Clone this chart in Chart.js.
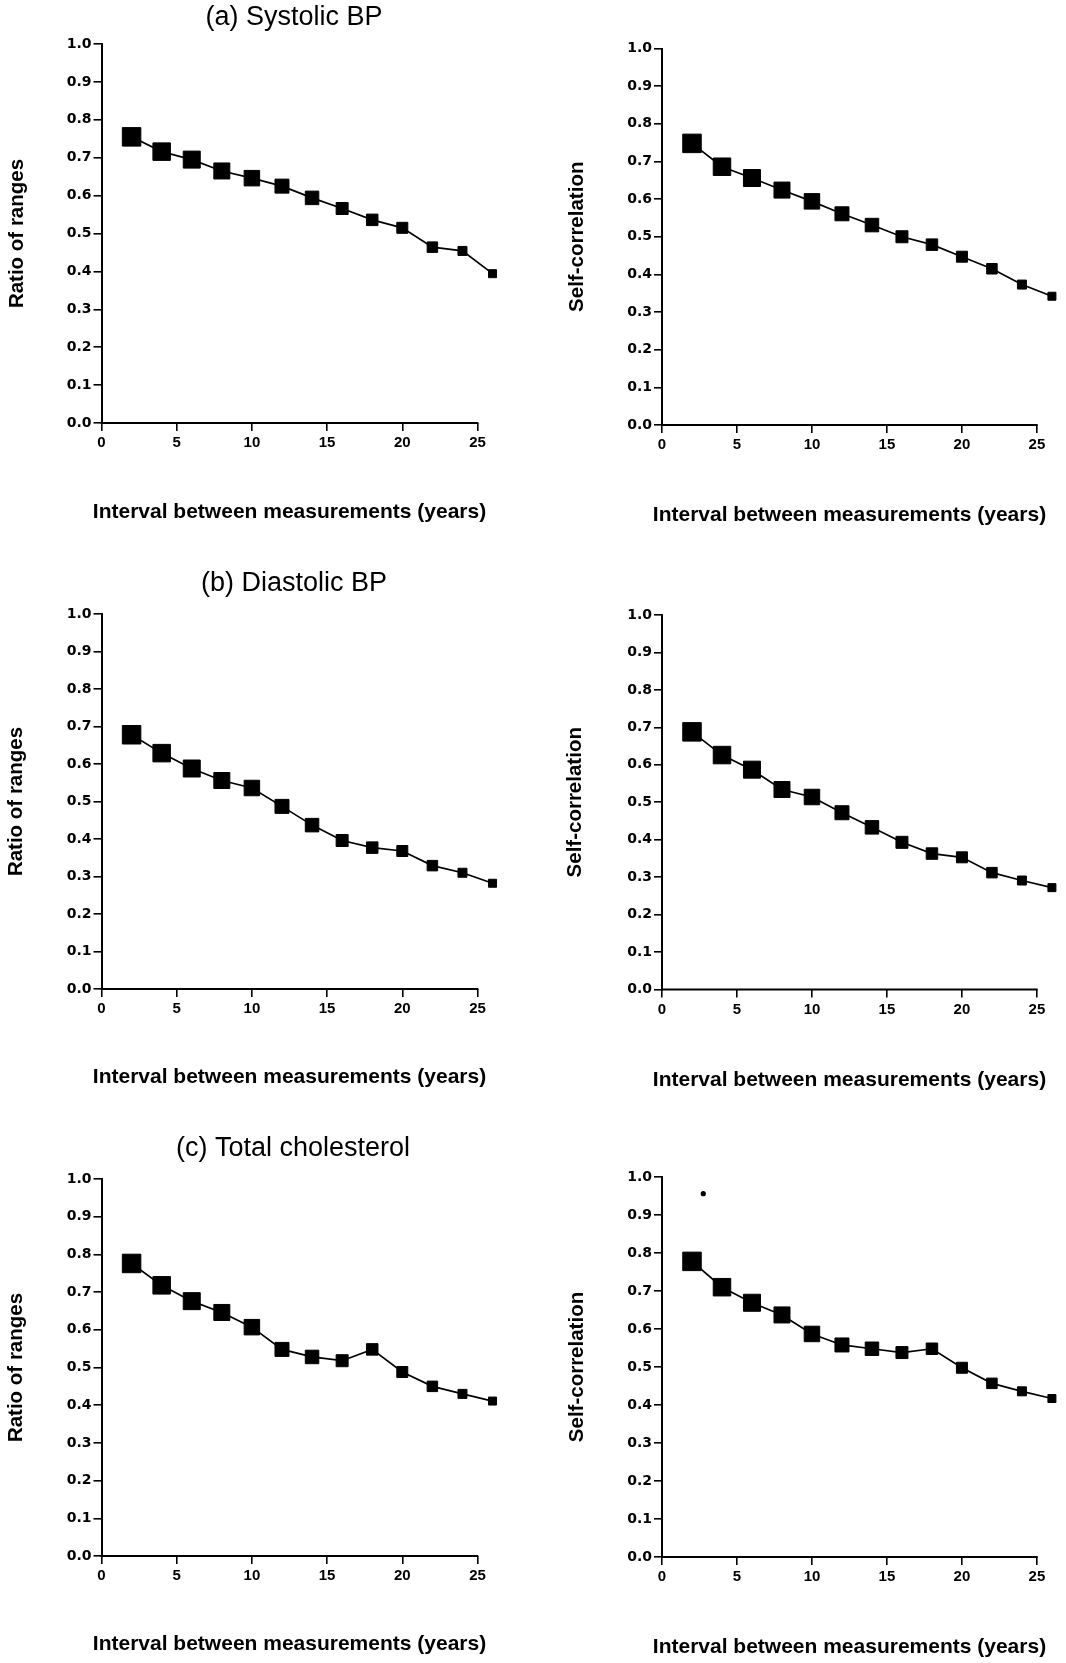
<!DOCTYPE html>
<html>
<head>
<meta charset="utf-8">
<script src="https://cdn.jsdelivr.net/npm/chart.js@4"></script>
<style>
  html, body { margin: 0; padding: 0; background: #fff; }
  #page { position: relative; width: 1066px; height: 1663px; background: #fff; overflow: hidden; }
  #page canvas { position: absolute; }
</style>
</head>
<body>
<div id="page"></div>
<script>
// interval between measurements (years)
var intervals = [2, 4, 6, 8, 10, 12, 14, 16, 18, 20, 22, 24, 26];

var systolicRatio  = [0.755, 0.716, 0.695, 0.665, 0.646, 0.625, 0.594, 0.566, 0.536, 0.515, 0.464, 0.454, 0.394];
var systolicCorr   = [0.748, 0.686, 0.656, 0.624, 0.594, 0.561, 0.531, 0.500, 0.479, 0.447, 0.415, 0.373, 0.342];
var diastolicRatio = [0.678, 0.629, 0.588, 0.556, 0.536, 0.487, 0.437, 0.396, 0.377, 0.368, 0.329, 0.310, 0.282];
var diastolicCorr  = [0.688, 0.626, 0.587, 0.534, 0.514, 0.472, 0.433, 0.393, 0.363, 0.353, 0.312, 0.291, 0.272];
var cholRatio      = [0.776, 0.718, 0.676, 0.646, 0.607, 0.548, 0.528, 0.518, 0.548, 0.488, 0.450, 0.430, 0.411];
var cholCorr       = [0.778, 0.710, 0.669, 0.637, 0.587, 0.558, 0.548, 0.538, 0.548, 0.498, 0.457, 0.436, 0.417];

// stray speck in the cholesterol self-correlation panel
var strayX = [2.75];
var strayY = [0.956];

var panelTitles = ['(a) Systolic BP', '(b) Diastolic BP', '(c) Total cholesterol'];
var yTitles = ['Ratio of ranges', 'Self-correlation'];
var xTitle = 'Interval between measurements (years)';

// x axis: ticks 0..25, data run to 26
var xMin = 0, xAxisEnd = 25, xMax = 26;

// marker side length (px) for each interval
var markerSide = [19.5, 18.5, 18, 17, 16.5, 15, 14.5, 13, 12.5, 12, 11.5, 10, 9];

// page layout (px); x0/x25 = pixel of 0 and 25 on the x axis
var cols = [
    { left: 0,   width: 533, x0: 101.5, x25: 477.5 },
    { left: 533, width: 533, x0: 662,   x25: 1041 }
];
var rows = [
    { top: 0,    height: 548, titleX: 294, titleY: 18,
      panels: [{ y1: 44,   y0: 423,  xt: 512,  yt: 17 }, { y1: 48.5, y0: 425,  xt: 515.5, yt: 577 }] },
    { top: 548,  height: 560, titleX: 294, titleY: 584,
      panels: [{ y1: 614,  y0: 989,  xt: 1077.5, yt: 16 }, { y1: 615,  y0: 989.5, xt: 1080, yt: 575 }] },
    { top: 1108, height: 555, titleX: 293, titleY: 1149,
      panels: [{ y1: 1179, y0: 1556, xt: 1644, yt: 16 }, { y1: 1177, y0: 1557, xt: 1647, yt: 577 }] }
];
var seriesByPanel = [
    [systolicRatio, systolicCorr],
    [diastolicRatio, diastolicCorr],
    [cholRatio, cholCorr]
];

var xTitleFont = 21, yTitleFont = 20.5;

function toPoints(xs, ys) {
    return xs.map(function(x, i) { return { x: x, y: ys[i] }; });
}

// panel heading, x axis line that stops at 25, x title centred under 0..25
var panelDecor = {
    id: 'panelDecor',
    beforeDatasetsDraw: function(chart) {
        var ctx = chart.ctx, xs = chart.scales.x;
        ctx.save();
        ctx.strokeStyle = '#000';
        ctx.lineWidth = 2;
        ctx.beginPath();
        ctx.moveTo(xs.getPixelForValue(xMin) - 1, chart.chartArea.bottom);
        ctx.lineTo(xs.getPixelForValue(xAxisEnd) + 0.8, chart.chartArea.bottom);
        ctx.stroke();
        ctx.restore();
    },
    afterDraw: function(chart, args, opts) {
        var ctx = chart.ctx, xs = chart.scales.x;
        ctx.save();
        ctx.fillStyle = '#000';
        ctx.textAlign = 'center';
        ctx.textBaseline = 'middle';
        ctx.font = 'bold ' + xTitleFont + 'px "Liberation Sans", Arial, sans-serif';
        ctx.fillText(xTitle, (xs.getPixelForValue(xMin) + xs.getPixelForValue(xAxisEnd)) / 2, opts.xTitleY);
        if (opts.text) {
            ctx.font = '27px "Liberation Sans", Arial, sans-serif';
            ctx.fillText(opts.text, opts.x, opts.y);
        }
        ctx.restore();
    }
};

function makePanel(r, c) {
    var row = rows[r], col = cols[c], p = row.panels[c];
    var canvas = document.createElement('canvas');
    canvas.width = col.width;
    canvas.height = row.height;
    canvas.style.left = col.left + 'px';
    canvas.style.top = row.top + 'px';
    canvas.style.width = col.width + 'px';
    canvas.style.height = row.height + 'px';
    document.getElementById('page').appendChild(canvas);

    var yAxisW = col.x0 - col.left;
    var xAxisH = row.top + row.height - p.y0;
    var xRight = col.x0 + (xMax - xMin) / (xAxisEnd - xMin) * (col.x25 - col.x0);

    var datasets = [{
        data: toPoints(intervals, seriesByPanel[r][c]),
        borderColor: '#000',
        borderWidth: 1.7,
        backgroundColor: '#000',
        pointStyle: 'rect',
        pointRadius: markerSide.map(function(s) { return (s - 1) / Math.SQRT2; }),
        pointBorderWidth: 1,
        pointBackgroundColor: '#000',
        pointBorderColor: '#000',
        tension: 0,
        clip: false
    }];
    if (r === 2 && c === 1) {
        datasets.push({
            data: toPoints(strayX, strayY),
            showLine: false,
            pointStyle: 'circle',
            pointRadius: 2.6,
            pointBorderWidth: 0,
            pointBackgroundColor: '#000',
            clip: false
        });
    }

    var decor = { xTitleY: p.xt - row.top };
    if (c === 0) {
        decor.text = panelTitles[r];
        decor.x = row.titleX - col.left;
        decor.y = row.titleY - row.top;
    }

    new Chart(canvas, {
        type: 'line',
        data: { datasets: datasets },
        options: {
            responsive: false,
            animation: false,
            events: [],
            layout: {
                padding: {
                    left: 0,
                    right: col.left + col.width - xRight,
                    top: p.y1 - row.top,
                    bottom: 0
                }
            },
            plugins: {
                legend: { display: false },
                tooltip: { enabled: false },
                panelDecor: decor
            },
            scales: {
                x: {
                    type: 'linear',
                    min: xMin,
                    max: xMax,
                    afterFit: function(scale) { scale.height = xAxisH; },
                    ticks: {
                        stepSize: 5,
                        includeBounds: false,
                        color: '#000',
                        padding: 3,
                        maxRotation: 0,
                        font: { family: '"Liberation Sans", Arial, sans-serif', size: 15, weight: 'bold' }
                    },
                    grid: { drawOnChartArea: false, drawTicks: true, tickLength: 8, color: '#000', lineWidth: 1.6 },
                    border: { display: false },
                    title: { display: false }
                },
                y: {
                    type: 'linear',
                    min: 0,
                    max: 1,
                    afterFit: function(scale) { scale.width = yAxisW; },
                    ticks: {
                        stepSize: 0.1,
                        color: '#000',
                        padding: 2,
                        callback: function(v) { return v.toFixed(1); },
                        font: { family: '"DejaVu Sans", sans-serif', size: 14, weight: 'bold' }
                    },
                    grid: { drawOnChartArea: false, drawTicks: true, tickLength: 8, color: '#000', lineWidth: 1.6 },
                    border: { display: true, color: '#000', width: 2 },
                    title: {
                        display: true,
                        text: yTitles[c],
                        color: '#000',
                        font: { family: '"Liberation Sans", Arial, sans-serif', size: yTitleFont, weight: 'bold' },
                        padding: { top: (p.yt - col.left) - yTitleFont * 0.6, bottom: 0 }
                    }
                }
            }
        },
        plugins: [panelDecor]
    });
}

for (var r = 0; r < rows.length; r++) {
    for (var c = 0; c < cols.length; c++) {
        makePanel(r, c);
    }
}
</script>
</body>
</html>
